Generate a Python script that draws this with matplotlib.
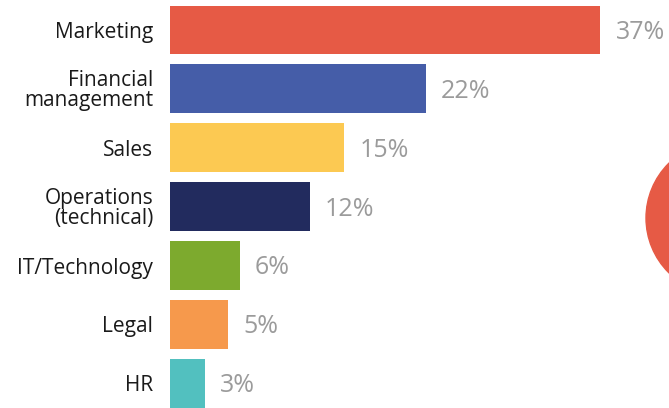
import matplotlib.pyplot as plt
from matplotlib.patches import Circle

# share of respondents by function
categories = ['Marketing', 'Financial\nmanagement', 'Sales', 'Operations\n(technical)',
              'IT/Technology', 'Legal', 'HR']
values = [37, 22, 15, 12, 6, 5, 3]
colors = ['#E65A45', '#455DA8', '#FCC952', '#222B5E', '#7DAA2E', '#F6994C', '#52C0BF']

plt.rcParams['font.family'] = ['Open Sans', 'DejaVu Sans']

fig = plt.figure(figsize=(6.69, 4.08), dpi=100)
ax = fig.add_axes([170 / 669, 0, 499 / 669, 1])

y = list(range(len(values)))
ax.barh(y, values, height=0.83, color=colors)

for yi, v in zip(y, values):
    ax.text(v + 1.3, yi + 0.04, f'{v}%', va='center', ha='left',
            fontsize=18, color='#9B9B9B', clip_on=False)

ax.set_yticks(y)
ax.set_yticklabels(categories, fontsize=15, color='#1A1A1A', linespacing=0.9)
ax.tick_params(axis='y', length=0, pad=12)
ax.set_xticks([])
ax.set_xlim(0, 42.9)
ax.set_ylim(6.42, -0.51)
for s in ax.spines.values():
    s.set_visible(False)

# red disc peeking in from the right edge
fig.patches.append(Circle((7.23, 1.90), 0.77, transform=fig.dpi_scale_trans,
                          color='#E65A45', zorder=0))

fig.savefig('out.png', dpi=100)
